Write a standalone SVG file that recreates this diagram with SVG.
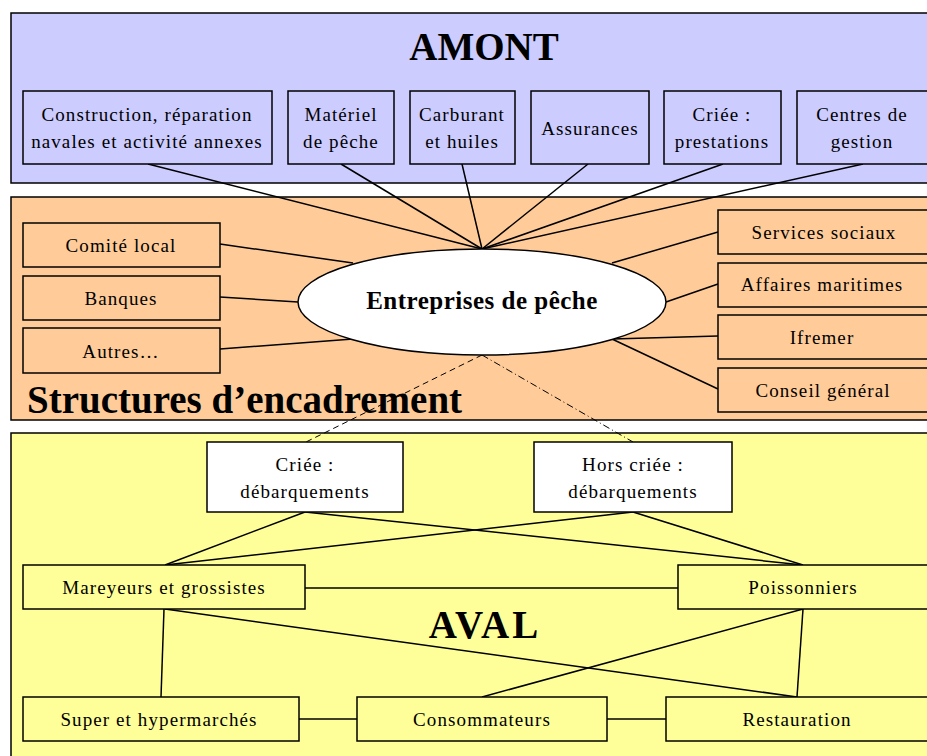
<svg xmlns="http://www.w3.org/2000/svg" width="927" height="756" viewBox="0 0 927 756">
<style>
.panel{stroke:#000;stroke-width:1.5}
.box{stroke:#000;stroke-width:1.5}
.t{font-family:"Liberation Serif","Times New Roman",serif;font-size:19px;letter-spacing:1.1px;fill:#000;text-anchor:middle}
.title{font-family:"Liberation Serif","Times New Roman",serif;font-weight:bold;font-size:39px;fill:#000}
.c line{stroke:#000;stroke-width:1.5}
</style>
<rect width="927" height="756" fill="#fff"/>
<g id="amont-panel">
<rect class="panel" x="11" y="13" width="930" height="170" fill="#ccccff"/>
<text class="title" x="484" y="60" text-anchor="middle">AMONT</text>
</g>
<g id="structures-panel">
<rect class="panel" x="11" y="197" width="930" height="223" fill="#ffcc99"/>
<text class="title" x="27" y="413">Structures d’encadrement</text>
</g>
<g id="aval-panel">
<rect class="panel" x="11" y="433" width="930" height="340" fill="#ffff99"/>
<text class="title" x="485" y="638" text-anchor="middle" style="letter-spacing:3px">AVAL</text>
</g>
<g class="c" id="connectors">
<line x1="148" y1="164" x2="482" y2="249"/>
<line x1="341" y1="164" x2="482" y2="249"/>
<line x1="462" y1="164" x2="482" y2="249"/>
<line x1="588" y1="164" x2="482" y2="249"/>
<line x1="723" y1="164" x2="482" y2="249"/>
<line x1="863" y1="164" x2="482" y2="249"/>
<line x1="220" y1="244" x2="353" y2="263"/>
<line x1="220" y1="297" x2="298" y2="302"/>
<line x1="220" y1="349" x2="353" y2="339"/>
<line x1="718" y1="232" x2="612" y2="263"/>
<line x1="718" y1="284" x2="666" y2="302"/>
<line x1="718" y1="336" x2="612" y2="339"/>
<line x1="718" y1="389" x2="612" y2="339"/>
<line x1="482" y1="355" x2="306" y2="442" style="stroke-width:1;stroke-dasharray:6 4"/>
<line x1="482" y1="355" x2="633" y2="442" style="stroke-width:1;stroke-dasharray:7 3 1 3"/>
<line x1="305" y1="512" x2="165" y2="565"/>
<line x1="305" y1="512" x2="803" y2="565"/>
<line x1="633" y1="512" x2="165" y2="565"/>
<line x1="633" y1="512" x2="803" y2="565"/>
<line x1="305" y1="588" x2="678" y2="588"/>
<line x1="164" y1="609" x2="161" y2="697"/>
<line x1="165" y1="609" x2="797" y2="697"/>
<line x1="803" y1="609" x2="482" y2="697"/>
<line x1="803" y1="609" x2="797" y2="697"/>
<line x1="299" y1="719" x2="357" y2="719"/>
<line x1="607" y1="719" x2="666" y2="719"/>
</g>
<g id="construction"><rect class="box" x="23" y="91" width="249" height="73" fill="#ccccff"/><text class="t" x="147" y="121">Construction, réparation</text><text class="t" x="147" y="148">navales et activité annexes</text></g>
<g id="materiel"><rect class="box" x="288" y="91" width="106" height="73" fill="#ccccff"/><text class="t" x="341" y="121">Matériel</text><text class="t" x="341" y="148">de pêche</text></g>
<g id="carburant"><rect class="box" x="410" y="91" width="105" height="73" fill="#ccccff"/><text class="t" x="462" y="121">Carburant</text><text class="t" x="462" y="148">et huiles</text></g>
<g id="assurances"><rect class="box" x="531" y="91" width="118" height="73" fill="#ccccff"/><text class="t" x="590" y="135">Assurances</text></g>
<g id="criee-prestations"><rect class="box" x="664" y="91" width="117" height="73" fill="#ccccff"/><text class="t" x="722" y="121">Criée  :</text><text class="t" x="722" y="148">prestations</text></g>
<g id="centres-gestion"><rect class="box" x="797" y="91" width="140" height="73" fill="#ccccff"/><text class="t" x="862" y="121">Centres de</text><text class="t" x="862" y="148">gestion</text></g>
<g id="comite-local"><rect class="box" x="23" y="223" width="197" height="44" fill="#ffcc99"/><text class="t" x="121" y="252">Comité local</text></g>
<g id="banques"><rect class="box" x="23" y="276" width="197" height="44" fill="#ffcc99"/><text class="t" x="121" y="305">Banques</text></g>
<g id="autres"><rect class="box" x="23" y="328" width="197" height="45" fill="#ffcc99"/><text class="t" x="121" y="358">Autres…</text></g>
<g id="services-sociaux"><rect class="box" x="718" y="210" width="220" height="44" fill="#ffcc99"/><text class="t" x="824" y="239">Services sociaux</text></g>
<g id="affaires-maritimes"><rect class="box" x="718" y="263" width="220" height="44" fill="#ffcc99"/><text class="t" x="822" y="291">Affaires maritimes</text></g>
<g id="ifremer"><rect class="box" x="718" y="315" width="220" height="44" fill="#ffcc99"/><text class="t" x="822" y="344">Ifremer</text></g>
<g id="conseil-general"><rect class="box" x="718" y="368" width="220" height="44" fill="#ffcc99"/><text class="t" x="823" y="397">Conseil général</text></g>
<g id="entreprises"><ellipse class="box" cx="482" cy="302" rx="184" ry="53" fill="#fff"/><text class="t" x="482" y="309" style="font-weight:bold;font-size:25px;letter-spacing:0.5px">Entreprises de pêche</text></g>
<g id="criee-debarquements"><rect class="box" x="207" y="442" width="196" height="70" fill="#fff"/><text class="t" x="305" y="471">Criée :</text><text class="t" x="305" y="498">débarquements</text></g>
<g id="hors-criee"><rect class="box" x="534" y="442" width="198" height="70" fill="#fff"/><text class="t" x="633" y="471">Hors criée :</text><text class="t" x="633" y="498">débarquements</text></g>
<g id="mareyeurs"><rect class="box" x="23" y="565" width="282" height="44" fill="#ffff99"/><text class="t" x="164" y="594">Mareyeurs et grossistes</text></g>
<g id="poissonniers"><rect class="box" x="678" y="565" width="260" height="44" fill="#ffff99"/><text class="t" x="803" y="594">Poissonniers</text></g>
<g id="super"><rect class="box" x="23" y="697" width="276" height="44" fill="#ffff99"/><text class="t" x="159" y="726">Super et hypermarchés</text></g>
<g id="consommateurs"><rect class="box" x="357" y="697" width="250" height="44" fill="#ffff99"/><text class="t" x="482" y="726">Consommateurs</text></g>
<g id="restauration"><rect class="box" x="666" y="697" width="272" height="44" fill="#ffff99"/><text class="t" x="797" y="726">Restauration</text></g>
</svg>
